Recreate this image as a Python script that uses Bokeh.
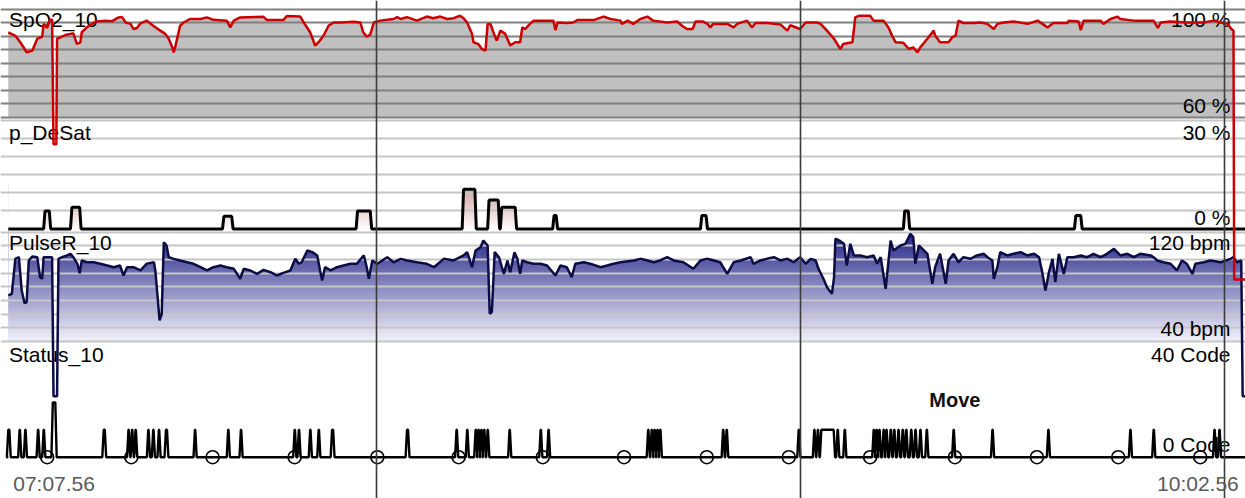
import numpy as np
from bokeh.plotting import figure
from bokeh.models import Range1d
from bokeh.core.properties import value
from bokeh.embed import file_html
from bokeh.resources import INLINE

# ---------------- data (time in minutes after start clock) ----------------
start_clock = "07:07:56"
end_clock = "10:02:56"
start_label = "07:07.56"
end_label = "10:02.56"
hour_marks = ["08:00:00", "09:00:00", "10:00:00"]

spo2_t = [0.0, 1.0, 1.7, 2.6, 3.4, 4.1, 4.8, 5.0, 5.5, 5.9, 6.2, 6.4, 6.8, 6.9, 7.6, 8.2, 8.8, 9.2, 9.7, 10.2,
          10.4, 11.1, 11.8, 12.5, 13.7, 14.7, 15.6, 16.1, 16.6, 17.3, 17.7, 18.2, 18.7, 19.6, 20.5, 21.5, 22.2,
          22.7, 23.2, 23.4, 23.6, 24.3, 24.8, 25.7, 27.2, 28.1, 29.0, 30.9, 31.4, 31.9, 32.8, 36.1, 36.6, 38.9,
          39.4, 41.3, 41.7, 42.7, 43.4, 43.9, 44.6, 45.3, 46.0, 47.0, 48.8, 49.8, 50.2, 50.7, 51.2, 51.7, 52.6,
          54.5, 55.0, 55.5, 56.4, 57.8, 59.2, 60.1, 61.1, 62.1, 63.0, 63.9, 64.4, 64.9, 65.6, 65.8, 66.5, 67.0,
          67.5, 67.8, 68.2, 68.7, 69.1, 69.6, 70.3, 71.0, 71.7, 72.4, 72.7, 73.1, 73.8, 74.3, 77.1, 77.4, 77.7,
          79.1, 79.9, 80.5, 82.8, 84.2, 85.2, 86.6, 86.8, 87.6, 88.4, 89.4, 90.4, 91.2, 93.2, 94.6, 95.3, 96.0,
          96.8, 97.2, 98.2, 98.9, 99.3, 99.7, 101.7, 102.6, 103.1, 104.5, 105.2, 105.7, 107.4, 109.2, 110.2,
          110.6, 112.0, 112.8, 114.4, 114.9, 115.8, 116.8, 117.7, 118.1, 119.4, 119.8, 120.3, 121.9, 122.4,
          123.8, 124.5, 125.0, 125.5, 126.6, 127.4, 128.0, 128.6, 129.0, 130.0, 130.9, 131.1, 131.8, 133.0,
          133.5, 134.0, 134.4, 135.1, 136.5, 137.5, 138.5, 139.4, 139.9, 140.8, 142.2, 144.2, 145.6, 147.0,
          147.8, 149.8, 150.0, 151.4, 151.7, 152.1, 154.5, 154.9, 155.9, 156.9, 157.3, 159.2, 162.0, 162.6,
          163.0, 164.4, 166.8, 169.1, 170.5, 171.5, 172.5, 173.0, 173.3, 173.4, 175.0]
spo2_v = [91.4, 90.1, 87.7, 84.0, 84.6, 89.0, 89.8, 94.5, 93.0, 96.0, 96.0, 50.0, 50.0, 89.0, 89.8, 90.5, 90.8,
          91.0, 87.1, 87.7, 91.4, 93.2, 94.5, 95.4, 95.7, 95.5, 96.9, 97.0, 95.0, 94.5, 92.6, 93.0, 94.7, 95.7,
          93.8, 92.0, 90.8, 89.0, 85.8, 84.0, 85.8, 93.8, 95.0, 96.3, 96.3, 96.9, 96.0, 95.7, 93.2, 95.7, 96.9,
          97.1, 95.9, 95.9, 97.4, 97.2, 95.4, 91.4, 86.5, 87.7, 90.2, 93.8, 95.0, 95.0, 95.3, 95.0, 91.4, 89.8,
          90.5, 95.0, 95.7, 96.3, 97.0, 96.3, 97.0, 95.7, 97.2, 96.6, 97.2, 96.3, 96.6, 97.5, 96.6, 95.0, 90.8,
          87.7, 87.0, 85.2, 84.6, 94.5, 94.5, 90.8, 88.3, 92.0, 90.8, 86.5, 87.7, 87.7, 93.2, 92.6, 94.5, 95.7,
          95.7, 92.2, 95.0, 94.8, 95.0, 95.9, 95.9, 97.2, 96.3, 95.7, 94.5, 95.7, 94.5, 96.3, 97.2, 95.7, 95.0,
          95.4, 93.8, 92.6, 92.6, 95.4, 95.4, 94.5, 93.2, 94.5, 94.5, 93.2, 94.5, 95.7, 93.2, 94.8, 94.8, 94.3,
          92.0, 94.0, 92.6, 95.0, 95.0, 94.5, 92.0, 89.0, 85.2, 87.1, 87.7, 96.9, 97.5, 97.5, 95.7, 95.7, 93.2,
          90.2, 87.7, 87.5, 85.2, 85.8, 84.0, 85.8, 89.0, 92.0, 90.2, 87.7, 87.7, 89.5, 90.2, 95.7, 94.8, 94.8,
          95.0, 94.5, 92.6, 94.5, 95.0, 95.4, 94.5, 95.7, 93.2, 94.8, 94.8, 95.7, 95.4, 92.2, 95.7, 95.7, 94.5,
          96.3, 97.2, 96.3, 95.7, 95.7, 93.0, 95.0, 95.4, 95.0, 95.0, 95.7, 95.0, 94.5, 92.6, 92.0, 0.0, 0.0]

desat_events = [(5.0, 6.0, 5.0), (8.8, 10.3, 6.0), (30.3, 31.8, 3.5), (49.2, 51.4, 5.0), (64.2, 66.2, 11.0),
                (67.8, 69.5, 8.0), (69.6, 71.9, 6.0), (77.0, 77.7, 3.7), (97.9, 98.9, 3.7), (126.6, 127.5, 5.0),
                (150.8, 151.9, 3.7)]

pulse_t = [0.0, 0.5, 1.0, 1.5, 1.9, 2.3, 2.6, 2.9, 3.4, 4.1, 4.5, 4.8, 5.0, 5.7, 6.2, 6.4, 6.9, 7.1, 7.6, 8.3,
           8.8, 9.2, 9.8, 10.1, 10.4, 11.1, 12.1, 13.0, 14.0, 14.9, 15.8, 16.3, 16.8, 17.7, 18.7, 19.6, 20.6,
           20.8, 21.0, 21.4, 21.7, 22.0, 22.4, 22.7, 23.4, 24.3, 25.3, 26.2, 27.2, 28.1, 29.0, 30.0, 30.9, 31.9,
           32.8, 33.3, 34.2, 35.2, 36.1, 37.1, 38.0, 38.9, 39.9, 40.6, 41.1, 41.5, 42.3, 43.0, 43.7, 44.1, 44.4,
           44.8, 45.6, 46.5, 47.4, 48.4, 49.3, 50.3, 50.7, 51.0, 51.5, 52.2, 53.6, 54.5, 55.5, 56.4, 57.8, 59.2,
           60.2, 61.6, 63.0, 64.4, 64.9, 65.6, 66.1, 66.8, 67.2, 67.8, 68.1, 68.4, 68.8, 69.4, 70.1, 70.6, 71.0,
           71.6, 72.0, 72.4, 72.7, 73.4, 74.3, 75.3, 76.2, 77.4, 78.1, 79.0, 79.7, 80.2, 81.4, 82.3, 83.8, 84.7,
           85.6, 86.6, 88.5, 89.4, 90.4, 91.3, 92.2, 93.2, 94.1, 95.5, 96.9, 97.9, 98.8, 99.8, 100.7, 101.7,
           102.6, 103.6, 105.0, 105.4, 106.4, 107.3, 108.3, 109.2, 110.2, 111.1, 112.0, 112.8, 113.5, 114.2,
           114.6, 115.3, 115.8, 116.5, 116.8, 117.0, 117.5, 118.2, 118.6, 119.1, 119.6, 120.5, 121.5, 122.4,
           122.9, 123.4, 124.1, 124.8, 125.2, 126.2, 126.9, 127.6, 128.0, 128.3, 128.8, 130.0, 130.7, 131.1,
           131.8, 132.6, 133.0, 133.7, 134.4, 135.1, 136.1, 137.0, 138.0, 138.5, 139.2, 139.4, 139.9, 140.3,
           141.3, 142.2, 143.2, 144.1, 145.1, 145.8, 146.2, 146.7, 147.2, 147.7, 148.1, 148.6, 149.3, 149.8,
           150.7, 151.7, 152.6, 153.5, 154.5, 155.4, 156.4, 157.3, 158.3, 159.2, 160.1, 161.6, 162.0, 162.5,
           163.4, 164.4, 165.3, 166.0, 166.7, 167.5, 167.9, 169.1, 170.0, 171.5, 172.9, 173.3, 173.8, 174.4,
           174.6, 175.0]
pulse_v = [73.7, 74.9, 100.5, 101.7, 77.3, 68.0, 68.8, 99.3, 102.2, 101.7, 87.0, 85.9, 101.7, 101.7, 101.7, 0.0,
           0.0, 100.5, 101.7, 103.0, 104.2, 101.7, 96.6, 90.0, 99.3, 98.0, 98.0, 96.9, 95.6, 94.4, 95.6, 88.3,
           94.4, 94.4, 92.0, 97.0, 98.0, 92.0, 79.9, 55.4, 60.0, 112.7, 110.0, 101.7, 100.5, 99.3, 98.0, 96.9,
           94.4, 92.0, 94.4, 95.6, 94.4, 93.2, 85.9, 93.2, 92.0, 89.5, 92.4, 90.7, 88.3, 90.2, 92.0, 100.5, 96.9,
           98.0, 106.6, 105.4, 103.0, 92.0, 84.6, 94.4, 92.0, 94.4, 95.6, 96.9, 96.9, 103.0, 94.4, 85.9, 99.3,
           96.9, 101.7, 98.0, 100.5, 99.3, 98.0, 96.9, 94.4, 100.5, 99.3, 103.0, 105.4, 94.4, 106.6, 109.0,
           113.9, 110.3, 60.3, 61.5, 105.4, 101.7, 89.5, 99.3, 90.7, 105.4, 100.5, 89.5, 99.3, 98.0, 96.9, 96.9,
           95.6, 88.3, 95.6, 94.4, 87.0, 96.9, 98.0, 96.9, 94.4, 95.6, 96.9, 98.0, 99.3, 100.5, 99.3, 98.0, 99.3,
           101.7, 99.3, 98.0, 93.2, 99.3, 100.5, 99.3, 98.0, 89.5, 98.0, 99.3, 101.7, 96.9, 99.3, 100.5, 101.7,
           99.3, 100.5, 98.0, 101.7, 96.9, 100.5, 99.3, 93.2, 85.9, 79.7, 74.9, 87.0, 115.2, 114.0, 111.5, 95.6,
           111.5, 103.0, 103.0, 101.7, 103.0, 96.9, 101.7, 78.6, 113.9, 106.6, 110.3, 111.5, 118.8, 116.4, 96.9,
           110.3, 104.2, 82.2, 94.4, 104.2, 82.2, 99.3, 104.2, 98.0, 101.7, 100.5, 103.0, 104.2, 101.7, 99.3,
           85.9, 94.4, 105.4, 103.0, 104.2, 105.4, 103.0, 104.2, 101.7, 92.0, 77.3, 90.7, 100.5, 83.4, 104.2,
           89.5, 101.7, 101.7, 103.0, 101.7, 104.2, 101.7, 104.2, 107.8, 103.0, 104.2, 101.7, 104.2, 103.0,
           101.7, 99.3, 98.0, 96.9, 92.0, 99.3, 96.9, 89.5, 96.9, 98.0, 99.3, 98.0, 100.5, 101.7, 98.0, 99.3,
           0.0, 0.0]

status_events = [(0.0, 0.1, 10), (1.6, 1.6, 10), (2.4, 2.4, 10), (4.2, 4.2, 10), (5.0, 5.0, 10), (6.3, 6.6, 20),
                 (13.5, 13.6, 10), (17.0, 17.0, 10), (17.5, 17.5, 10), (18.0, 18.0, 10), (19.8, 19.8, 10),
                 (20.5, 20.5, 10), (21.3, 21.3, 10), (22.3, 22.4, 10), (26.4, 26.4, 10), (31.1, 31.1, 10),
                 (32.9, 32.9, 10), (40.5, 40.5, 10), (41.1, 41.1, 10), (42.7, 42.7, 10), (43.9, 43.9, 10),
                 (45.8, 45.9, 10), (56.4, 56.5, 10), (63.4, 63.4, 10), (64.9, 64.9, 10), (66.1, 66.1, 10),
                 (66.5, 66.5, 10), (66.9, 66.9, 10), (67.3, 67.3, 10), (67.8, 67.8, 10), (70.9, 70.9, 10),
                 (75.3, 75.3, 10), (76.4, 76.4, 10), (90.5, 90.5, 10), (91.0, 91.0, 10), (91.4, 91.4, 10),
                 (91.8, 91.8, 10), (92.2, 92.2, 10), (101.1, 101.1, 10), (101.6, 101.6, 10), (111.8, 111.8, 10),
                 (114.0, 114.0, 10), (114.5, 114.5, 10), (115.0, 116.7, 10), (117.3, 117.3, 10),
                 (118.3, 118.3, 10), (122.4, 122.4, 10), (122.8, 122.8, 10), (123.2, 123.2, 10),
                 (123.8, 123.8, 10), (124.2, 124.2, 10), (124.8, 124.8, 10), (125.3, 125.3, 10),
                 (125.9, 125.9, 10), (126.5, 126.5, 10), (127.0, 127.0, 10), (127.7, 127.7, 10),
                 (128.3, 128.3, 10), (129.0, 129.0, 10), (129.9, 129.9, 10), (133.7, 133.7, 10),
                 (139.2, 139.2, 10), (147.1, 147.1, 10), (158.7, 158.7, 10), (162.0, 162.0, 10),
                 (170.6, 170.6, 10), (171.3, 171.3, 10)]

marker_t = [5.5, 17.4, 28.9, 40.5, 52.2, 63.7, 75.6, 87.1, 98.8, 110.4, 121.9, 133.9, 145.5, 157.0, 168.6]
event_label = "Move"
event_label_t = 133.9

spo2_grid = [60, 65, 70, 75, 80, 85, 90, 95, 100]
desat_grid = [5, 10, 15, 20, 25, 30]
pulse_grid = [40, 50, 60, 70, 80, 90, 100, 110, 120]


def clock_min(s):
    h, m, sec = [int(x) for x in s.split(":")]
    return h * 60 + m + sec / 60.0


T0 = 0.0
T1 = clock_min(end_clock) - clock_min(start_clock)
hours_t = [clock_min(h) - clock_min(start_clock) for h in hour_marks]

# ---------------- layout ----------------
W, H = 1245, 498
X_PAD = 1.1  # minutes of empty space left of the first sample
TXT_SHIFT = -9.0  # baseline correction for svg text


def panel_range(v_top, fy_top, v_bot, fy_bot):
    s = (v_top - v_bot) / (fy_bot - fy_top)
    return Range1d(start=v_bot - (H - fy_bot) * s, end=v_top + fy_top * s)


p = figure(width=W, height=H, x_range=Range1d(T0 - X_PAD, T1), y_range=panel_range(100, 8.5, 60, 116.7),
           x_axis_location=None, y_axis_location=None, toolbar_location=None,
           output_backend="svg", min_border=0)
p.outline_line_color = None
p.grid.visible = False
p.extra_y_ranges = {
    "desat": panel_range(30, 120, 0, 228.5),
    "pulse": panel_range(120, 231.7, 40, 341),
    "status": panel_range(10, 429.3, 0, 456.7),
}

FONT = value("Liberation Sans")
FS = value("21px")


def lerp_colors(c0, c1, n):
    out = []
    for i in range(n):
        f = (i + 0.5) / n
        out.append("#%02x%02x%02x" % tuple(int(round(a + (b - a) * f)) for a, b in zip(c0, c1)))
    return out


def gradient(lo, hi, c_lo, c_hi, n, yname):
    edges = np.linspace(lo, hi, n + 1)
    step = edges[1] - edges[0]
    p.quad(left=T0, right=T1, bottom=edges[:-1], top=edges[1:] + step * 0.6,
           fill_color=lerp_colors(c_lo, c_hi, n), line_color=None, y_range_name=yname)


# SpO2 fill
sv = np.array(spo2_v)
p.varea(x=spo2_t, y1=60, y2=np.maximum(sv, 60), fill_color="#c0c0c0")

# DeSat series from events
ramp = 0.2
d_t, d_v = [T0], [0.0]
for ts, te, v in desat_events:
    d_t += [ts, ts + ramp, te - ramp, te]
    d_v += [0.0, v, v, 0.0]
d_t.append(T1)
d_v.append(0.0)
gradient(0, 12, (255, 252, 252), (205, 160, 160), 30, "desat")
p.varea(x=d_t, y1=d_v, y2=12.5, fill_color="white", y_range_name="desat")

# Pulse gradient + white-out above the curve
pv = np.array(pulse_v)
gradient(40, 120, (242, 242, 250), (35, 35, 135), 60, "pulse")
p.varea(x=pulse_t, y1=np.clip(pv, 40, 120), y2=121, fill_color="white", y_range_name="pulse")

# grid lines
p.hspan(y=spo2_grid, line_color="#808080", line_width=2)
p.hspan(y=desat_grid, line_color="#c6c6c6", line_width=2, y_range_name="desat")
p.hspan(y=pulse_grid, line_color="#c6c6c6", line_width=2, y_range_name="pulse")

# labels
labels = [
    ("default", 100, 19.8, "SpO2_10", "100 %", 60, -2.4, "60 %"),
    ("desat", 30, 20.7, "p_DeSat", "30 %", 0, -2.5, "0 %"),
    ("pulse", 120, 19.0, "PulseR_10", "120 bpm", 40, -4.3, "40 bpm"),
    ("status", 40, 16.2, "Status_10", "40 Code", 0, -3.4, "0 Code"),
]
for yname, ytop, off_top, name, top_txt, ybot, off_bot, bot_txt in labels:
    p.text(x=[T0 - X_PAD], y=[ytop], text=[name], text_font=FONT, text_font_size=FS, text_align="left",
           text_baseline="alphabetic", x_offset=8.5, y_offset=off_top + TXT_SHIFT, text_color="black",
           y_range_name=yname)
    p.text(x=[T1, T1], y=[ytop, ybot], text=[top_txt, bot_txt], text_font=FONT, text_font_size=FS,
           text_align="right", text_baseline="alphabetic", x_offset=-15,
           y_offset=[off_top + TXT_SHIFT, off_bot + TXT_SHIFT], text_color="black", y_range_name=yname)

# data lines
p.line(d_t, d_v, line_color="black", line_width=3, y_range_name="desat")
p.line(pulse_t, pulse_v, line_color="#0c0c46", line_width=2.5, y_range_name="pulse")

s_t, s_v = [T0], [0.0]
r = 0.2
for ts, te, v in status_events:
    s_t += [ts - r, ts, te + 0.05, te + 0.05 + r]
    s_v += [0.0, v, v, 0.0]
s_t.append(T1)
s_v.append(0.0)
p.line(s_t, s_v, line_color="black", line_width=2.4, y_range_name="status")

p.line(spo2_t, spo2_v, line_color="#cc0000", line_width=2.5)

p.scatter(x=marker_t, y=[0] * len(marker_t), marker="circle", size=13, fill_color=None,
          line_color="black", line_width=1.6, y_range_name="status")

p.text(x=[event_label_t], y=[0], text=[event_label], text_font=FONT, text_font_size=value("20px"),
       text_font_style="bold", text_align="center", text_baseline="alphabetic", y_offset=-48.4 + TXT_SHIFT,
       text_color="#111111", y_range_name="status")

# hour lines
p.vspan(x=hours_t, line_color="#3c3c3c", line_width=1.6)

# time labels
bottom = p.extra_y_ranges["status"].start
p.text(x=[T0 - X_PAD, T1], y=[bottom, bottom], text=[start_label, end_label], text_font=FONT,
       text_font_size=FS, text_align=["left", "right"], text_baseline="alphabetic", x_offset=[12.7, -6.7],
       y_offset=-6.3 + TXT_SHIFT, text_color="#5a5a5a", y_range_name="status")

open("out.html", "w").write(file_html(p, INLINE))
